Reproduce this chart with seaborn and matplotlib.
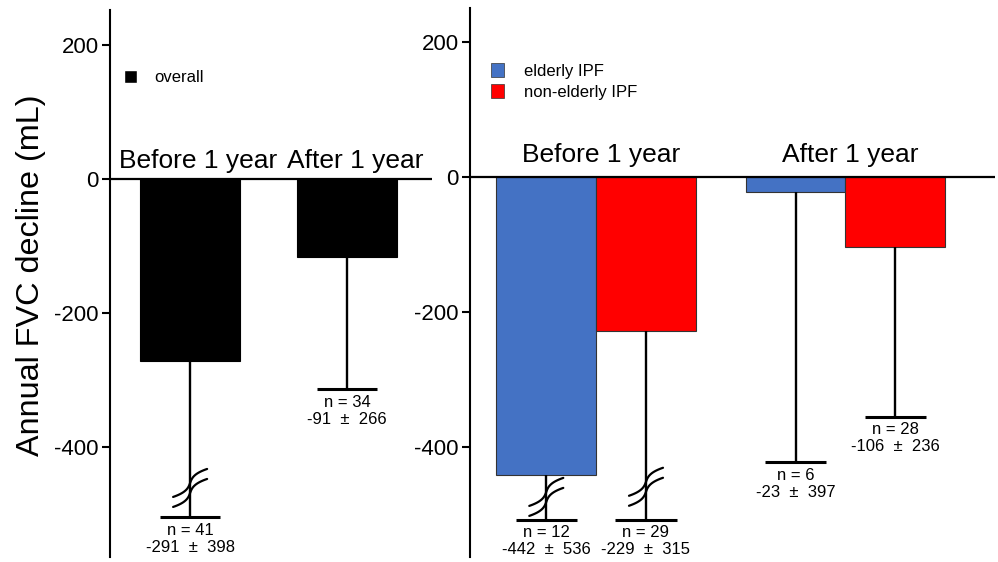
import numpy as np
import pandas as pd
import matplotlib
matplotlib.use('Agg')
import matplotlib.pyplot as plt
import matplotlib.transforms as mtransforms
from matplotlib.patches import Patch
import seaborn as sns

# Data
periods = ['Before 1 year', 'After 1 year']

overall_mean = [-271, -117]
overall_low = [-505, -314]
overall_n = [41, 34]
overall_txt = ['-291  \u00b1  398', '-91  \u00b1  266']

elderly_mean = [-442, -23]
elderly_low = [-508, -423]
elderly_n = [12, 6]
elderly_txt = ['-442  \u00b1  536', '-23  \u00b1  397']

nonelderly_mean = [-229, -104]
nonelderly_low = [-508, -355]
nonelderly_n = [29, 28]
nonelderly_txt = ['-229  \u00b1  315', '-106  \u00b1  236']

# axis break positions (y of the "≈" marks), None = no break
overall_break = [-461, None]
elderly_break = [-474, None]
nonelderly_break = [-459, None]

colors = {'overall': 'black', 'elderly IPF': '#4472C4', 'non-elderly IPF': '#FF0000'}

sns.set_theme(style='white')
plt.rcParams['font.family'] = ['Liberation Sans', 'DejaVu Sans']
plt.rcParams['axes.unicode_minus'] = False
plt.rcParams['text.color'] = 'black'
plt.rcParams['axes.labelcolor'] = 'black'

fig = plt.figure(figsize=(9.98, 5.62), dpi=100)
axL = fig.add_axes([110/998, 5/562, 322/998, 547/562])
axR = fig.add_axes([470/998, 5/562, 525/998, 549/562])

dfL = pd.DataFrame({'period': periods, 'value': overall_mean, 'group': 'overall'})
sns.barplot(data=dfL, x='period', y='value', hue='group', palette=colors,
            width=0.64, saturation=1, edgecolor='black', linewidth=0.8,
            legend=False, ax=axL)

dfR = pd.DataFrame({'period': periods * 2,
                    'value': elderly_mean + nonelderly_mean,
                    'group': ['elderly IPF'] * 2 + ['non-elderly IPF'] * 2})
sns.barplot(data=dfR, x='period', y='value', hue='group', palette=colors,
            width=0.8, saturation=1, edgecolor='#333333', linewidth=0.8,
            legend=False, ax=axR)


def draw_break(ax, xc, yc):
    s = np.linspace(-1, 1, 40)
    dx = 17 * (0.3 * s + 0.7 * s ** 3) / 100
    dy = 14 * s / 100
    trans = fig.dpi_scale_trans + mtransforms.ScaledTranslation(xc, yc, ax.transData)
    for off in (0.05, -0.05):
        ax.plot(dx, dy + off, color='black', lw=1.6, transform=trans, clip_on=False)


def draw_errors(ax, container, lows, ns, txts, breaks, capw):
    for bar, low, n, txt, brk in zip(container, lows, ns, txts, breaks):
        xc = bar.get_x() + bar.get_width() / 2
        bottom = bar.get_y() + bar.get_height()
        ax.vlines(xc, low, bottom, color='black', lw=1.7)
        ax.hlines(low, xc - capw / 2, xc + capw / 2, color='black', lw=2.2)
        ax.annotate(f'n = {n}\n{txt}', (xc, low), xytext=(0, -4),
                    textcoords='offset points', ha='center', va='top',
                    fontsize=12, linespacing=1.15, annotation_clip=False)
        if brk is not None:
            draw_break(ax, xc, brk)


for ax, xlim, ylim in [(axL, (-0.51, 1.54), (-564, 252)),
                       (axR, (-0.506, 1.60), (-563, 250))]:
    ax.set_xlim(*xlim)
    ax.set_ylim(*ylim)
    ax.set_yticks([200, 0, -200, -400])
    ax.set_xticks([])
    ax.set_xlabel('')
    ax.set_ylabel('')
    for side in ['top', 'right', 'bottom']:
        ax.spines[side].set_visible(False)
    ax.spines['left'].set_color('black')
    ax.spines['left'].set_linewidth(1.5)
    ax.tick_params(axis='y', left=True, length=6, width=1.5, colors='black',
                   labelsize=16, pad=2)
    ax.axhline(0, color='black', lw=1.6, zorder=5)

draw_errors(axL, axL.containers[0], overall_low, overall_n, overall_txt, overall_break, 0.38)
draw_errors(axR, axR.containers[0], elderly_low, elderly_n, elderly_txt, elderly_break, 0.245)
draw_errors(axR, axR.containers[1], nonelderly_low, nonelderly_n, nonelderly_txt, nonelderly_break, 0.245)

for i, p in enumerate(periods):
    axL.text(i + 0.05, 16, p, ha='center', va='baseline', fontsize=19)
    axR.text(i + 0.02, 22, p, ha='center', va='baseline', fontsize=19)

axL.set_ylabel('Annual FVC decline (mL)', fontsize=23.3)
axL.yaxis.set_label_coords(-0.2, 0.515)

axL.legend(handles=[Patch(facecolor=colors['overall'], label='overall')],
           loc='upper left', bbox_to_anchor=(0.043, 0.89), frameon=False,
           fontsize=12, handlelength=0.8, handleheight=0.8,
           handletextpad=1.0, borderaxespad=0, borderpad=0)
axR.legend(handles=[Patch(facecolor=colors[g], edgecolor='#333333', linewidth=0.5, label=g)
                    for g in ['elderly IPF', 'non-elderly IPF']],
           loc='upper left', bbox_to_anchor=(0.04, 0.90), frameon=False,
           fontsize=12, handlelength=0.8, handleheight=0.9, labelspacing=0.35,
           handletextpad=1.2, borderaxespad=0, borderpad=0)

fig.savefig('out.png', dpi=100)
